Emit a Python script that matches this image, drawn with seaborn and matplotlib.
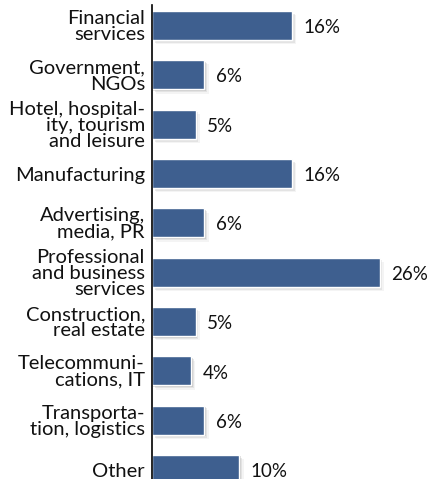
import matplotlib
matplotlib.use('Agg')
import matplotlib.pyplot as plt
import matplotlib.patheffects as pe
import seaborn as sns

categories = ['Financial\nservices', 'Government,\nNGOs', 'Hotel, hospital-\nity, tourism\nand leisure',
              'Manufacturing', 'Advertising,\nmedia, PR', 'Professional\nand business\nservices',
              'Construction,\nreal estate', 'Telecommuni-\ncations, IT', 'Transporta-\ntion, logistics', 'Other']
values = [16, 6, 5, 16, 6, 26, 5, 4.5, 6, 10]
value_labels = ['16%', '6%', '5%', '16%', '6%', '26%', '5%', '4%', '6%', '10%']

sns.set_style('white')
plt.rcParams['font.family'] = ['Lato', 'DejaVu Sans']

fig = plt.figure(figsize=(4.28, 4.79), dpi=100)
ax = fig.add_axes([0.355, 0.0, 0.6135, 0.99])

sns.barplot(x=values, y=categories, orient='h', color='#3e5f8f', width=0.59,
            saturation=1, ax=ax)

# soft drop shadow
shadow = [pe.SimplePatchShadow(offset=(1, -1), shadow_rgbFace='#888888', alpha=0.3),
          pe.SimplePatchShadow(offset=(2, -2), shadow_rgbFace='#999999', alpha=0.2),
          pe.SimplePatchShadow(offset=(3, -3), shadow_rgbFace='#bbbbbb', alpha=0.15),
          pe.Normal()]
for p in ax.patches:
    p.set_path_effects(shadow)

for p, lab in zip(ax.patches, value_labels):
    ax.annotate(lab, (p.get_width(), p.get_y() + p.get_height() / 2),
                xytext=(8, -1.5), textcoords='offset points',
                va='center', ha='left', fontsize=13.5, color='#111111')

ax.set_xlim(0, 30)
ax.set_ylim(9.19, -0.42)
ax.set_xlabel('')
ax.set_ylabel('')
ax.set_xticks([])
ax.tick_params(axis='y', length=0, pad=5, labelsize=14.5, labelcolor='#111111')
for t in ax.get_yticklabels():
    t.set_linespacing(0.95)
for s in ['top', 'right', 'bottom']:
    ax.spines[s].set_visible(False)
ax.spines['left'].set_color('black')
ax.spines['left'].set_linewidth(1.2)

fig.savefig('out.png', dpi=100)
